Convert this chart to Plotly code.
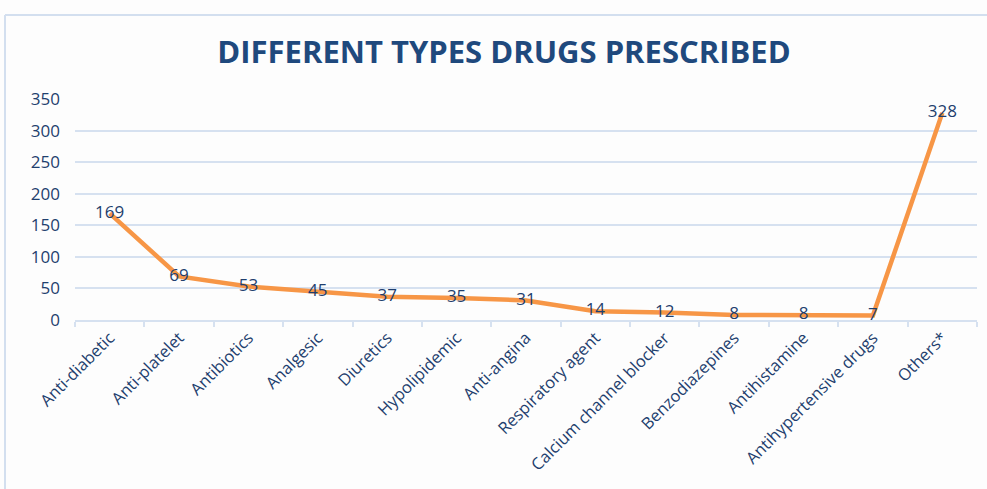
import plotly.graph_objects as go

categories = ["Anti-diabetic", "Anti-platelet", "Antibiotics", "Analgesic", "Diuretics",
              "Hypolipidemic", "Anti-angina", "Respiratory agent", "Calcium channel blocker",
              "Benzodiazepines", "Antihistamine", "Antihypertensive drugs", "Others*"]
counts = [169, 69, 53, 45, 37, 35, 31, 14, 12, 8, 8, 7, 328]
y_ticks = [0, 50, 100, 150, 200, 250, 300, 350]

title_text = "DIFFERENT TYPES DRUGS PRESCRIBED"
text_color = "#1F3F6E"
grid_color = "#D6E1F0"

fig = go.Figure()
fig.add_trace(go.Scatter(
    x=categories, y=counts, mode="lines+text",
    text=[str(v) for v in counts], textposition="middle center",
    textfont=dict(family="Open Sans, sans-serif", size=17, color=text_color),
    line=dict(color="#F79646", width=4.5),
    hoverinfo="x+y", showlegend=False,
))

fig.update_layout(
    width=987, height=489,
    margin=dict(l=75, r=10, t=99, b=169),
    paper_bgcolor="#FDFDFD", plot_bgcolor="#FDFDFD",
    title=dict(text="<b>" + title_text + "</b>", x=504 / 987, xanchor="center", xref="container",
               y=1 - 52 / 489, yanchor="middle",
               font=dict(family="Liberation Sans Narrow, Open Sans, sans-serif", size=31, color="#1F497D")),
    font=dict(family="Open Sans, sans-serif", color=text_color),
)
fig.update_xaxes(
    type="category", range=[-0.5, len(categories) - 0.5],
    tickangle=-45, tickfont=dict(size=16.5, color=text_color),
    tickson="boundaries", ticks="outside", ticklen=5, tickcolor=grid_color, tickwidth=1.5,
    showline=True, linecolor=grid_color, linewidth=1.5, showgrid=False,
)
fig.update_yaxes(
    range=[0, 350], tickvals=y_ticks, tickfont=dict(size=17, color=text_color),
    showgrid=True, gridcolor=grid_color, gridwidth=1.5, zeroline=False,
    showline=False, ticklabelstandoff=14,
)
# chart frame (top and left edges)
fig.add_shape(type="line", xref="paper", yref="paper", x0=-70 / 902, x1=1.02,
              y0=1 + 84 / 221, y1=1 + 84 / 221, line=dict(color="#D3DFEF", width=2))
fig.add_shape(type="line", xref="paper", yref="paper", x0=-70 / 902, x1=-70 / 902,
              y0=1 + 84 / 221, y1=-2, line=dict(color="#D3DFEF", width=2))

fig.write_html("out.html")
